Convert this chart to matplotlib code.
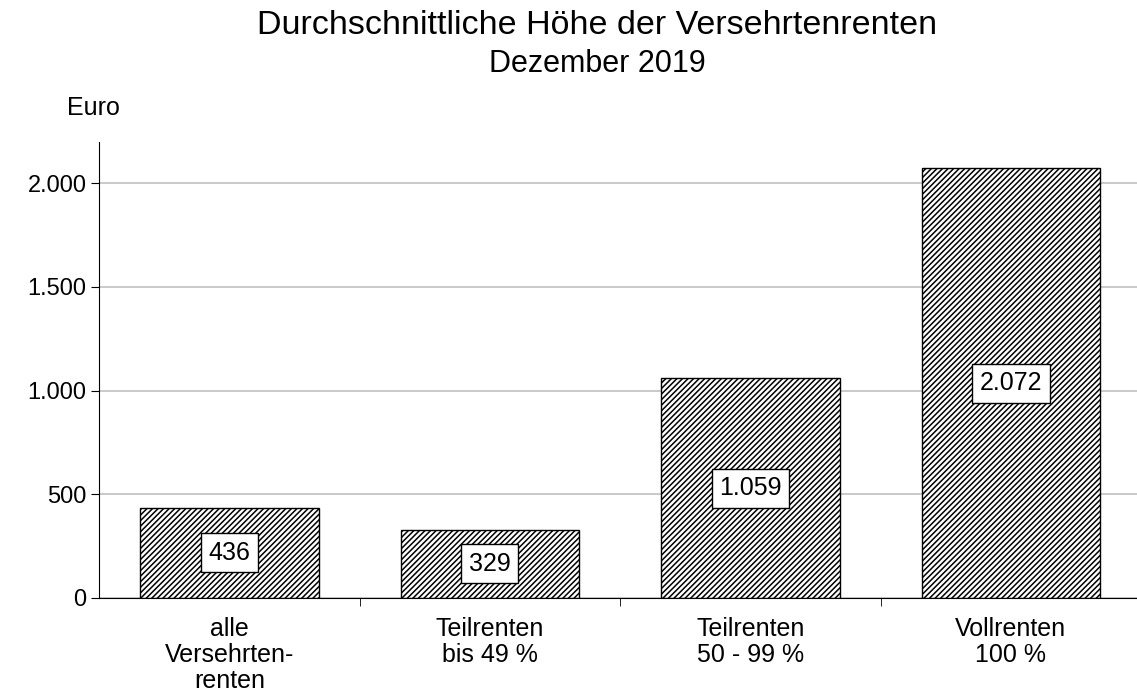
import matplotlib.pyplot as plt
import numpy as np

plt.rcParams['font.family'] = ['Liberation Sans', 'DejaVu Sans']
plt.rcParams['hatch.linewidth'] = 1.1
plt.rcParams['hatch.color'] = '#505050'

categories = ['alle\nVersehrten-\nrenten', 'Teilrenten\nbis 49 %', 'Teilrenten\n50 - 99 %', 'Vollrenten\n100 %']
values = [436, 329, 1059, 2072]
labels = ['436', '329', '1.059', '2.072']
yticks = [0, 500, 1000, 1500, 2000]
ytick_labels = ['0', '500', '1.000', '1.500', '2.000']

fig = plt.figure(figsize=(11.37, 6.99), dpi=100)
ax = fig.add_axes([0.0871, 0.1445, 0.9165, 0.653])

x = np.arange(len(categories))
bars = ax.bar(x, values, width=0.685, color='white', edgecolor='black',
              linewidth=1.0, hatch='//////', zorder=2)

for xi, v, lab in zip(x, values, labels):
    ax.text(xi, v / 2, lab, ha='center', va='center', fontsize=18, zorder=3,
            bbox=dict(boxstyle='square,pad=0.3', fc='white', ec='black', lw=1))

ax.set_xlim(-0.5, 3.5)
ax.set_ylim(0, 2200)
ax.set_yticks(yticks)
ax.set_yticklabels(ytick_labels, fontsize=17)
ax.yaxis.grid(True, color='#c0c0c0', linewidth=1.2, zorder=0)
ax.set_axisbelow(True)

ax.set_xticks(x)
ax.set_xticklabels(categories, fontsize=18, linespacing=1.1)
ax.tick_params(axis='x', length=0, pad=14)
ax.set_xticks([0.5, 1.5, 2.5], minor=True)
ax.tick_params(axis='x', which='minor', length=6, direction='out')
ax.tick_params(axis='y', length=6, direction='out', pad=3)

for s in ['top', 'right']:
    ax.spines[s].set_visible(False)

fig.text(0.5255, 0.963, 'Durchschnittliche Höhe der Versehrtenrenten', ha='center',
         va='center', fontsize=24.5)
fig.text(0.5255, 0.909, 'Dezember 2019', ha='center', va='center', fontsize=22)
fig.text(0.059, 0.845, 'Euro', ha='left', va='center', fontsize=18)

fig.savefig('out.png', dpi=100)
